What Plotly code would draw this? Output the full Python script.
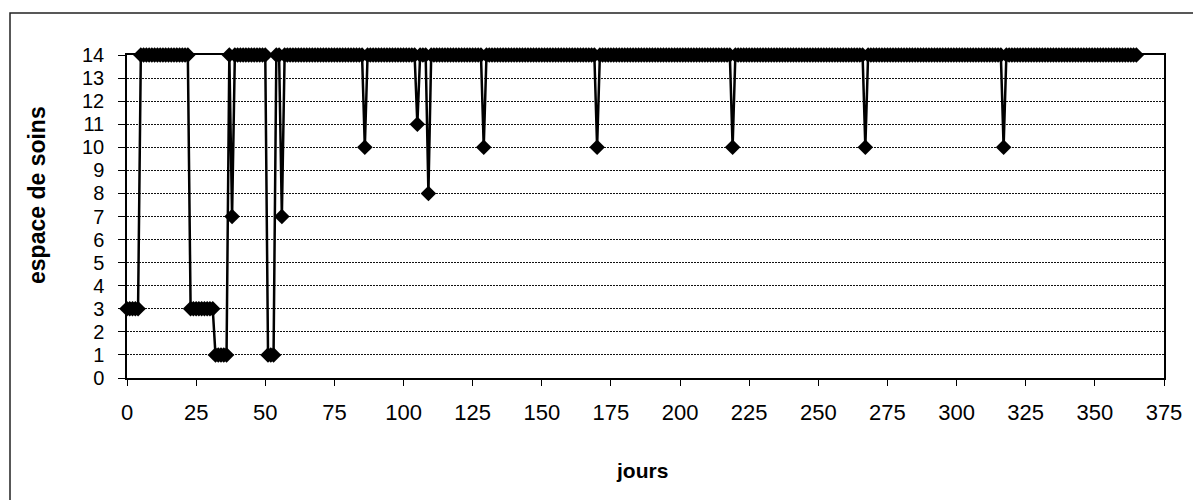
import plotly.graph_objects as go

# Daily values, stored as runs (value, number of consecutive days), starting at day 0
run_values = [3, 14, 3, 1, 14, 7, 14, 1, 14, 7, 14, 10, 14, 11, 14, 8, 14, 10, 14, 10, 14, 10, 14, 10, 14, 10, 14]
run_lengths = [5, 18, 9, 5, 1, 1, 12, 3, 2, 1, 29, 1, 18, 1, 3, 1, 19, 1, 40, 1, 48, 1, 47, 1, 49, 1, 48]

x_ticks = [0, 25, 50, 75, 100, 125, 150, 175, 200, 225, 250, 275, 300, 325, 350, 375]
y_ticks = list(range(0, 15))

x_title = "jours"
y_title = "espace de soins"

values = []
for v, n in zip(run_values, run_lengths):
    values.extend([v] * n)
days = list(range(len(values)))

W, H = 1193, 500
ML, MR, MT, MB = 127, 29, 55, 122
PW, PH = W - ML - MR, H - MT - MB

def px_x(p):
    return (p - ML) / PW

def px_y(p):
    return (H - MB - p) / PH

FONT = "Liberation Sans, Arial, sans-serif"

fig = go.Figure()
fig.add_trace(go.Scatter(
    x=days, y=values, mode="lines+markers",
    line=dict(color="black", width=2.5),
    marker=dict(symbol="diamond", size=12, color="black"),
    cliponaxis=False, showlegend=False,
))

fig.update_layout(
    width=W, height=H, autosize=False,
    margin=dict(l=ML, r=MR, t=MT, b=MB),
    paper_bgcolor="white", plot_bgcolor="white",
    font=dict(family=FONT, color="black", size=22),
    xaxis=dict(
        range=[0, 375], tickvals=x_ticks, ticktext=[str(t) for t in x_ticks],
        showgrid=False, zeroline=False,
        showline=True, linecolor="black", linewidth=1.5, mirror=True,
        ticks="outside", ticklen=6, tickwidth=1, tickcolor="black",
        tickfont=dict(size=22, family=FONT), ticklabelstandoff=8,
    ),
    yaxis=dict(
        range=[0, 14], tickvals=y_ticks, ticktext=[str(t) for t in y_ticks],
        showgrid=True, gridcolor="#111111", gridwidth=1, griddash="2px,1px",
        zeroline=False,
        showline=True, linecolor="black", linewidth=1.5, mirror=True,
        ticks="outside", ticklen=7, tickwidth=1, tickcolor="black",
        tickfont=dict(size=20, family=FONT), ticklabelstandoff=10,
    ),
    annotations=[
        dict(text="<b>" + y_title + "</b>", xref="paper", yref="paper",
             x=px_x(37), y=px_y(195), textangle=-90, showarrow=False,
             font=dict(size=23, family=FONT, color="black"),
             xanchor="center", yanchor="middle"),
        dict(text="<b>" + x_title + "</b>", xref="paper", yref="paper",
             x=px_x(642), y=px_y(470), showarrow=False,
             font=dict(size=21, family=FONT, color="black"),
             xanchor="center", yanchor="middle"),
    ],
    shapes=[
        dict(type="rect", xref="paper", yref="paper",
             x0=px_x(10), y0=px_y(13), x1=px_x(1210), y1=px_y(520),
             line=dict(color="#222222", width=1.5), fillcolor="rgba(0,0,0,0)",
             layer="below"),
    ],
)

fig.write_html("out.html")
